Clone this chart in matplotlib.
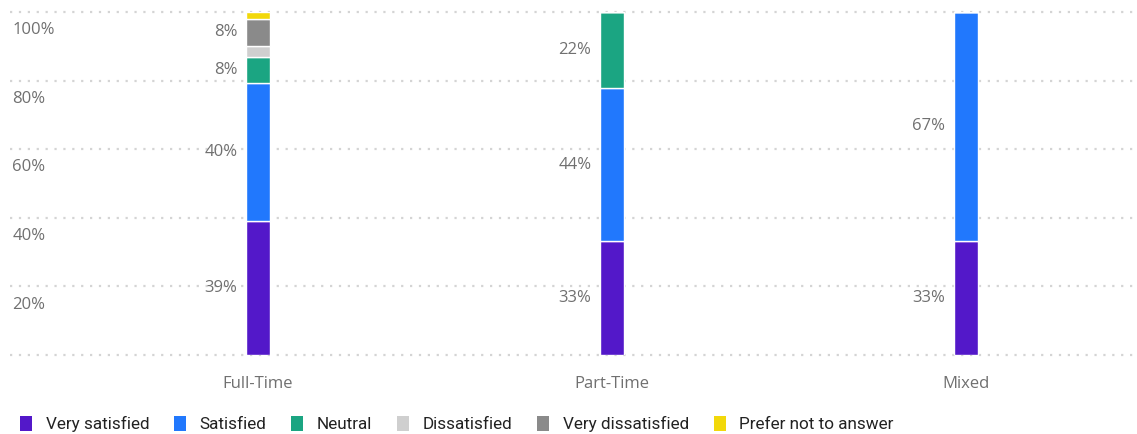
import numpy as np
import matplotlib.pyplot as plt
from matplotlib.patches import Patch

# data (percent of respondents)
categories = ['Full-Time', 'Part-Time', 'Mixed']
responses = ['Very satisfied', 'Satisfied', 'Neutral', 'Dissatisfied',
             'Very dissatisfied', 'Prefer not to answer']
very_satisfied = [39.0, 33.3, 33.3]
satisfied = [40.2, 44.4, 66.7]
neutral = [7.7, 22.3, 0]
dissatisfied = [3.2, 0, 0]
very_dissatisfied = [7.9, 0, 0]
prefer_not = [2.0, 0, 0]
colors = ['#5318c9', '#2178fd', '#1ba582', '#cfcfcf', '#8a8a8a', '#f2d80a']

series = [very_satisfied, satisfied, neutral, dissatisfied, very_dissatisfied, prefer_not]

W, H = 1137, 434
fig = plt.figure(figsize=(W / 100, H / 100), dpi=100)
ax = fig.add_axes([10 / W, (H - 355) / H, (W - 10) / W, (355 - 12) / H])

x = np.arange(len(categories))
bottom = np.zeros(len(categories))
for vals, col in zip(series, colors):
    vals = np.array(vals)
    ax.bar(x, vals, 0.068, bottom=bottom, color=col, edgecolor='white', linewidth=1, zorder=3)
    for i, v in enumerate(vals):
        if v >= 5:
            ax.text(i - 0.058, bottom[i] + v / 2, f'{v:.0f}%', ha='right', va='center',
                    fontsize=12, color='#707070', family='Open Sans')
    bottom += vals

ax.set_xlim(-248 / 354, 2 + 171 / 354)
ax.set_ylim(0, 100)
for yv in range(0, 101, 20):
    ax.axhline(yv, color='#d4d4d4', lw=1.6, ls=(0, (1, 3)), zorder=1, clip_on=False)
    if yv > 0:
        ax.text(0.002, yv - 3.0, f'{yv}%', transform=ax.get_yaxis_transform(), ha='left', va='top',
                fontsize=12, color='#707070', family='Open Sans')
ax.axis('off')

for i, c in enumerate(categories):
    ax.text(i, -8.5, c, ha='center', va='center', fontsize=12, color='#707070', family='Open Sans')

handles = [Patch(facecolor=c, edgecolor='none') for c in colors]
fig.legend(handles, responses, loc='center left', bbox_to_anchor=(0.004, (H - 424) / H), ncol=6,
           frameon=False, handlelength=0.7, handleheight=0.95, handletextpad=0.8,
           columnspacing=1.45, prop={'family': 'Roboto', 'size': 12.3}, labelcolor='#222222')

fig.savefig('out.png', dpi=100)
